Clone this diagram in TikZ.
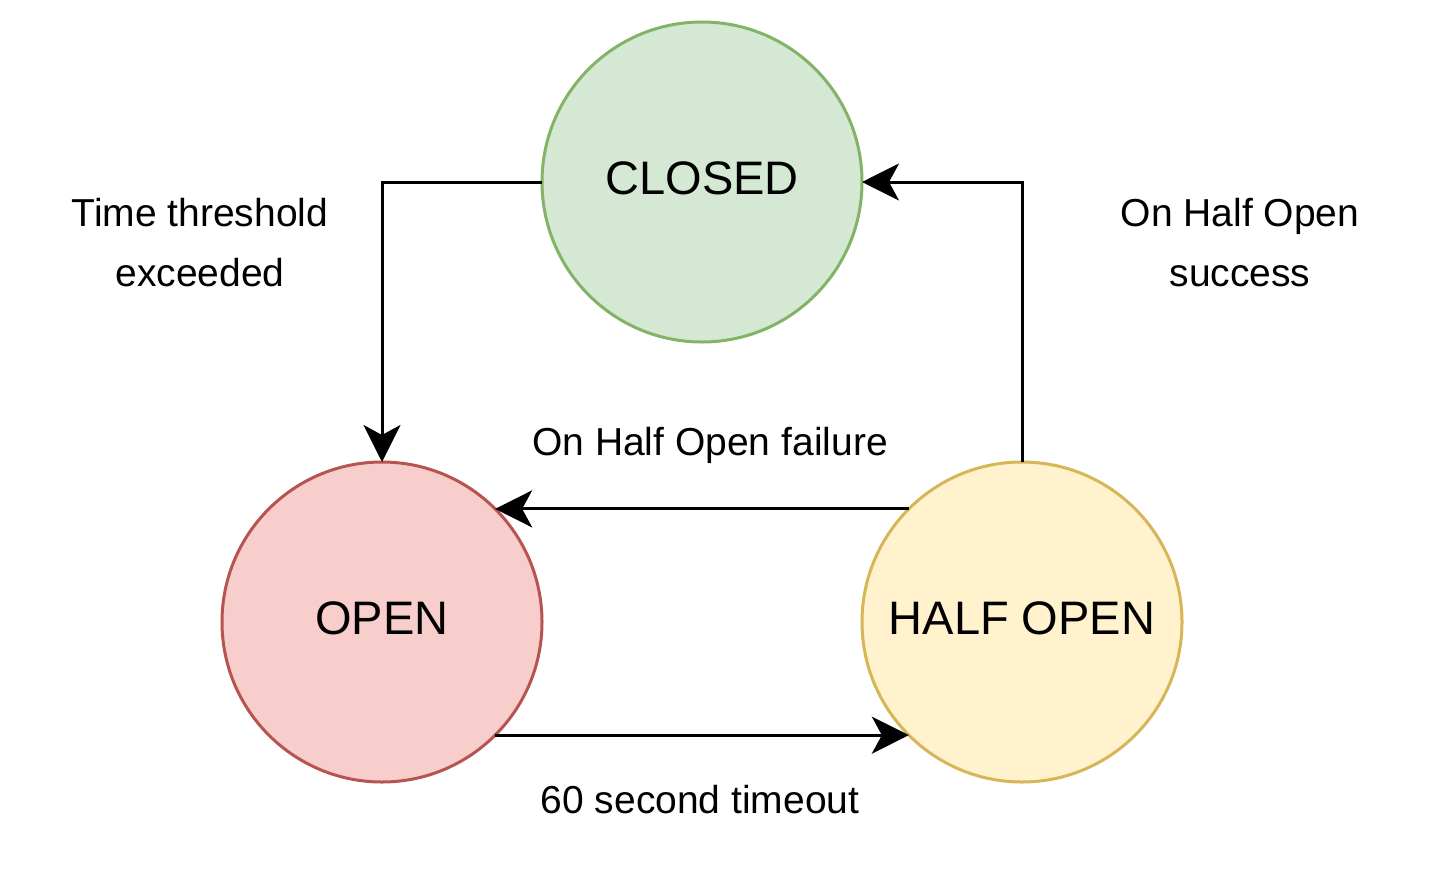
\documentclass[tikz,border=0pt]{standalone}
\usepackage{fontspec}
\setmainfont{Liberation Sans}
\usetikzlibrary{arrows.meta,positioning}
\definecolor{closedfill}{HTML}{D5E8D4}
\definecolor{closedline}{HTML}{82B366}
\definecolor{openfill}{HTML}{F8CECC}
\definecolor{openline}{HTML}{B85450}
\definecolor{halffill}{HTML}{FFF2CC}
\definecolor{halfline}{HTML}{D6B656}

\begin{document}
\begin{tikzpicture}[x=0.5pt,y=-0.5pt,
  state/.style={circle,line width=1.5pt,minimum size=160pt,inner sep=0pt,outer sep=0pt,
    text depth=3.8pt,font=\fontsize{23.5}{28}\selectfont},
  conn/.style={line width=1.5pt,-{Stealth[length=18.5pt,width=18.5pt,inset=5pt]}},
  lbl/.style={inner sep=0pt,align=center,font=\fontsize{19.5}{30}\selectfont}]
\useasboundingbox (0,0) rectangle (1444,884);
\node[state,fill=closedfill,draw=closedline] (closed) at (702,182) {CLOSED};
\node[state,fill=openfill,draw=openline] (open) at (382,622) {OPEN};
\node[state,fill=halffill,draw=halfline] (halfopen) at (1022,622) {HALF OPEN};
\draw[conn] (closed.west) -| (open.north);
\draw[conn] (halfopen.north) |- (closed.east);
\draw[conn] (halfopen.135) -- (open.45);
\draw[conn] (open.-45) -- (halfopen.-135);
\node[lbl] (lbltime) at (200,243) {Time threshold\\exceeded};
\node[lbl] (lblsuccess) at (1240,243) {On Half Open\\success};
\node[lbl,anchor=base] (lblfailure) at (710,455) {On Half Open failure};
\node[lbl,anchor=base] (lbltimeout) at (700,813) {60 second timeout};
\end{tikzpicture}
\end{document}
